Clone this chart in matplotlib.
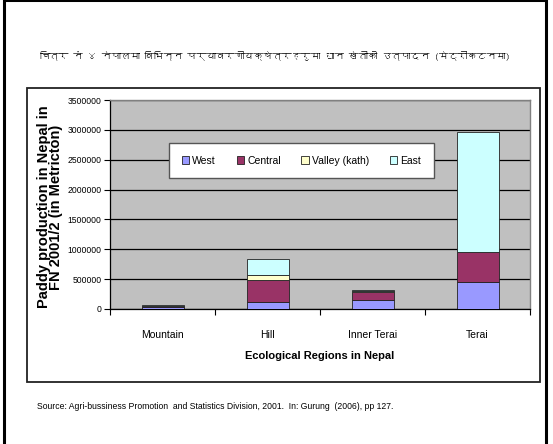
import numpy as np
import matplotlib
matplotlib.use("Agg")
import matplotlib.pyplot as plt
from matplotlib import font_manager
from matplotlib.patches import Rectangle
from matplotlib.ft2font import FT2Font

# data (metric tons)
regions = ["Mountain", "Hill", "Inner Terai", "Terai"]
west = [40000, 110000, 145000, 450000]
central = [5000, 380000, 140000, 500000]
valley = [0, 75000, 15000, 0]
east = [30000, 270000, 25000, 2010000]
series_names = ["West", "Central", "Valley (kath)", "East"]
colors = ["#9999FF", "#993366", "#FFFFCC", "#CCFFFF"]
yticks = [0, 500000, 1000000, 1500000, 2000000, 2500000, 3000000, 3500000]

title = "चित्र नं ४ नेपालमा बिभिन्न पर्यावरणीयक्षेत्रहरुमा धान खेतीको उत्पादन (मेट्रीकटनमा)"
ylabel = "Paddy production in Nepal in\nFN 2001/2 (in Metricton)"
source = ("Source: Agri-bussiness Promotion  and Statistics Division, 2001.  "
          "In: Gurung  (2006), pp 127.")


def devanagari_family():
    """
    look for an installed font that has devanagari glyphs
    """
    for f in font_manager.fontManager.ttflist:
        try:
            if 0x0928 in FT2Font(f.fname).get_charmap():
                return f.name
        except Exception:
            pass
    return "DejaVu Sans"


W, H = 553, 444
fig = plt.figure(figsize=(W / 100, H / 100), dpi=100)


def fx(x):
    return x / W


def fy(y):
    return 1 - y / H


# page frame and chart box
fig.patches.append(Rectangle((fx(4), fy(460)), fx(542), 460 / H, transform=fig.transFigure,
                             fill=False, edgecolor="black", linewidth=2.2))
fig.patches.append(Rectangle((fx(27), fy(382)), fx(513), 294 / H, transform=fig.transFigure,
                             fill=False, edgecolor="#222222", linewidth=1.3))

fig.text(fx(275), fy(55), title, ha="center", va="center", fontsize=6.8,
         family=[devanagari_family(), "DejaVu Sans"])
fig.text(fx(37), fy(406), source, ha="left", va="center", fontsize=6.2,
         family="Liberation Sans")

ax = fig.add_axes([fx(110), fy(309), fx(420), 209 / H])
ax.set_facecolor("#C0C0C0")

x = np.arange(len(regions))
bottom = np.zeros(len(regions))
for name, vals, c in zip(series_names, [west, central, valley, east], colors):
    ax.bar(x, vals, 0.4, bottom=bottom, color=c, edgecolor="#222222", linewidth=0.6,
           label=name, zorder=3)
    bottom += np.array(vals)

ax.set_xlim(-0.5, len(regions) - 0.5)
ax.set_ylim(0, 3500000)
ax.set_yticks(yticks)
ax.set_yticklabels([str(v) for v in yticks], fontsize=6.2, family="Liberation Sans")
ax.yaxis.grid(True, color="black", linewidth=0.9, zorder=1)
ax.set_axisbelow(True)

ax.set_xticks(x)
ax.set_xticklabels(regions, fontsize=7.5, family="Liberation Sans")
ax.set_xticks(np.arange(-0.5, len(regions)), minor=True)
ax.tick_params(axis="x", which="major", length=0, pad=15)
ax.tick_params(axis="x", which="minor", length=4, width=0.8, direction="out")
ax.tick_params(axis="y", length=4, width=0.8, direction="out", pad=2)

for s in ["left", "bottom"]:
    ax.spines[s].set_color("black")
    ax.spines[s].set_linewidth(0.9)
for s in ["top", "right"]:
    ax.spines[s].set_color("#808080")
    ax.spines[s].set_linewidth(1.0)

ax.set_xlabel("Ecological Regions in Nepal", fontsize=8, fontweight="bold",
              family="Liberation Sans", labelpad=8)

fig.text(fx(50), fy(207), ylabel, rotation=90, ha="center", va="center", fontsize=10.5,
         fontweight="bold", family="Liberation Sans", linespacing=0.9)

leg = ax.legend(loc="upper left", bbox_to_anchor=((164 - 110) / 420, (309 - 138) / 209),
                ncol=4, frameon=True, fancybox=False, borderpad=1.2,
                handlelength=0.7, handleheight=0.7, handletextpad=0.3, columnspacing=2.0,
                prop={"family": "Liberation Sans", "size": 7.5})
leg.get_frame().set_edgecolor("#555555")
leg.get_frame().set_linewidth(1.0)
leg.get_frame().set_facecolor("white")
leg.get_frame().set_alpha(1)
leg.set_zorder(5)

fig.savefig("out.png", dpi=100)
